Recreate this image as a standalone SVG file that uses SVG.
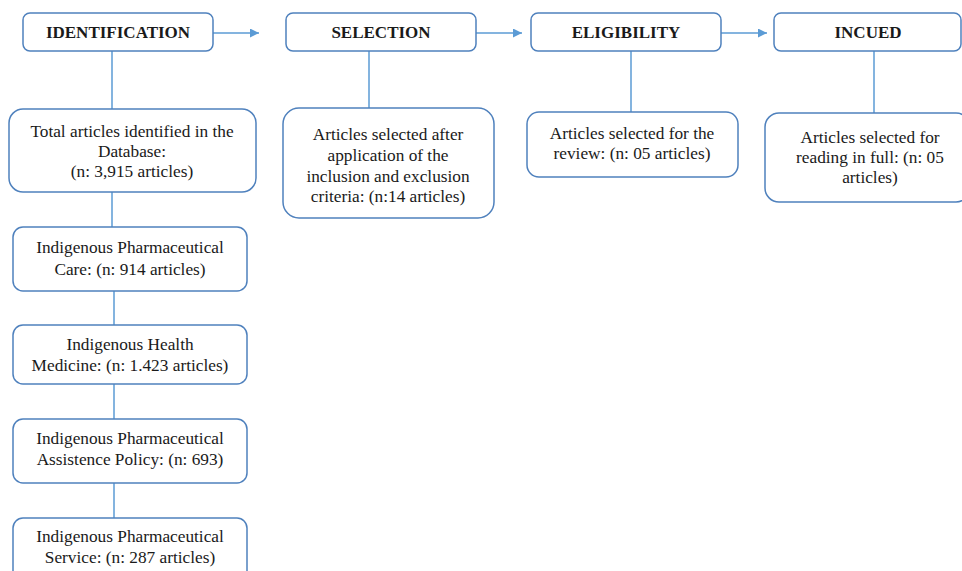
<svg xmlns="http://www.w3.org/2000/svg" width="962" height="571" viewBox="0 0 962 571">
<style>
.box{fill:#fff;stroke:#4f81bd;stroke-width:1.5}
.ln{stroke:#5b9bd5;stroke-width:1.5;fill:none}
text{font-family:'Liberation Serif','Times New Roman',serif;fill:#1a1a1a;text-anchor:middle}
.t{font-size:17.3px}
.h{font-size:17px;font-weight:bold}
</style>
<defs>
<marker id="ar" viewBox="0 0 10 10" refX="10" refY="5" markerWidth="10" markerHeight="9" markerUnits="userSpaceOnUse" orient="auto">
<path d="M0,0 L10,5 L0,10 z" fill="#5b9bd5"/>
</marker>
</defs>
<rect width="962" height="571" fill="#fff"/>
<g id="connectors">
<line class="ln" x1="213" y1="33" x2="259" y2="33" marker-end="url(#ar)"/>
<line class="ln" x1="476" y1="33" x2="522" y2="33" marker-end="url(#ar)"/>
<line class="ln" x1="721" y1="33" x2="767" y2="33" marker-end="url(#ar)"/>
<line class="ln" x1="112" y1="51" x2="112" y2="109"/>
<line class="ln" x1="112" y1="192" x2="112" y2="227"/>
<line class="ln" x1="114" y1="291" x2="114" y2="325"/>
<line class="ln" x1="114" y1="384" x2="114" y2="419"/>
<line class="ln" x1="114" y1="483" x2="114" y2="518"/>
<line class="ln" x1="369" y1="51" x2="369" y2="108"/>
<line class="ln" x1="631" y1="51" x2="631" y2="112"/>
<line class="ln" x1="874" y1="51" x2="874" y2="113"/>
</g>
<g id="identification">
<rect class="box" x="23" y="13" width="190" height="38" rx="7"/>
<text class="h" x="118" y="38">IDENTIFICATION</text>
</g>
<g id="selection">
<rect class="box" x="286" y="13" width="190" height="38" rx="7"/>
<text class="h" x="381" y="38">SELECTION</text>
</g>
<g id="eligibility">
<rect class="box" x="531" y="13" width="190" height="38" rx="7"/>
<text class="h" x="626" y="38">ELIGIBILITY</text>
</g>
<g id="incued">
<rect class="box" x="774" y="13" width="187" height="38" rx="7"/>
<text class="h" x="868" y="38">INCUED</text>
</g>
<g id="total">
<rect class="box" x="9" y="109" width="247" height="83" rx="14"/>
<text class="t" x="132" y="137">Total articles identified in the</text>
<text class="t" x="132" y="157">Database:</text>
<text class="t" x="132" y="177">(n: 3,915 articles)</text>
</g>
<g id="care">
<rect class="box" x="13" y="227" width="234" height="64" rx="10"/>
<text class="t" x="130" y="253">Indigenous Pharmaceutical</text>
<text class="t" x="130" y="275">Care: (n: 914 articles)</text>
</g>
<g id="medicine">
<rect class="box" x="13" y="325" width="234" height="59" rx="10"/>
<text class="t" x="130" y="350">Indigenous Health</text>
<text class="t" x="130" y="371">Medicine: (n: 1.423 articles)</text>
</g>
<g id="policy">
<rect class="box" x="13" y="419" width="234" height="64" rx="10"/>
<text class="t" x="130" y="444">Indigenous Pharmaceutical</text>
<text class="t" x="130" y="465">Assistence Policy: (n: 693)</text>
</g>
<g id="service">
<rect class="box" x="13" y="518" width="234" height="70" rx="10"/>
<text class="t" x="130" y="542">Indigenous Pharmaceutical</text>
<text class="t" x="130" y="563">Service: (n: 287 articles)</text>
</g>
<g id="selected14">
<rect class="box" x="283" y="108" width="211" height="110" rx="16"/>
<text class="t" x="388" y="140">Articles selected after</text>
<text class="t" x="388" y="161">application of the</text>
<text class="t" x="388" y="182">inclusion and exclusion</text>
<text class="t" x="388" y="202">criteria: (n:14 articles)</text>
</g>
<g id="review">
<rect class="box" x="527" y="112" width="211" height="65" rx="12"/>
<text class="t" x="632" y="139">Articles selected for the</text>
<text class="t" x="632" y="159">review: (n: 05 articles)</text>
</g>
<g id="fullread">
<rect class="box" x="765" y="113" width="205" height="89" rx="14"/>
<text class="t" x="870" y="143">Articles selected for</text>
<text class="t" x="870" y="163">reading in full: (n: 05</text>
<text class="t" x="870" y="183">articles)</text>
</g>
</svg>
